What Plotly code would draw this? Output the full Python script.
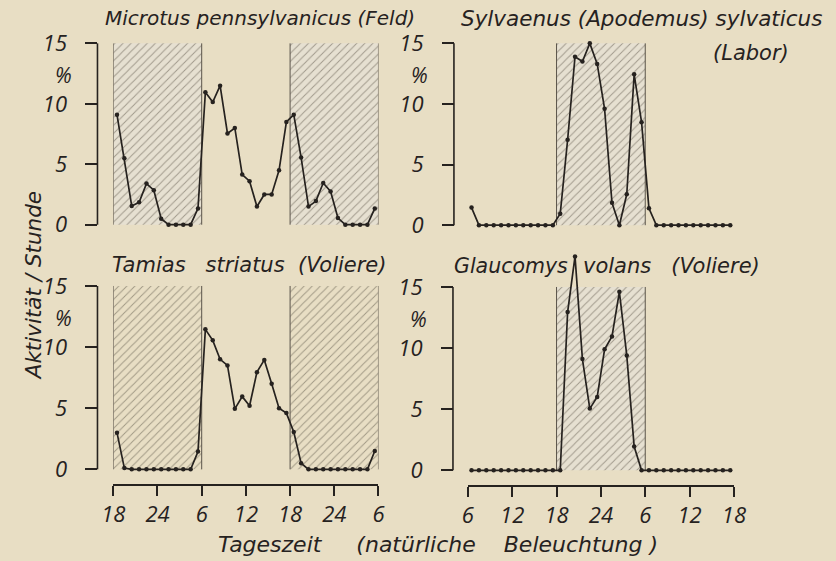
import numpy as np
import plotly.graph_objects as go

W, H = 836, 561
BG = "#e8dec4"
INK = "#26221f"
HATCH_BG = "#e6e0d1"
FONT = "Open Sans"
TEXT_FONT = "DejaVu Sans"

# hourly activity (% of daily total), 36 consecutive hours per panel
hours = np.arange(36) + 0.5

microtus = [9.1, 5.5, 1.55, 1.85, 3.4, 2.85, 0.5, 0, 0, 0, 0, 1.35,
            10.95, 10.15, 11.5, 7.55, 8.0, 4.15, 3.6, 1.5, 2.5, 2.5, 4.5, 8.5,
            9.1, 5.55, 1.5, 1.95, 3.45, 2.75, 0.55, 0, 0, 0, 0, 1.35]

sylvaenus = [1.45, 0, 0, 0, 0, 0, 0, 0, 0, 0, 0, 0,
             0.95, 7.05, 13.9, 13.5, 15.0, 13.3, 9.6, 1.85, 0, 2.55, 12.45, 8.5,
             1.4, 0, 0, 0, 0, 0, 0, 0, 0, 0, 0, 0]

tamias = [3.0, 0.1, 0, 0, 0, 0, 0, 0, 0, 0, 0, 1.45,
          11.45, 10.55, 9.0, 8.5, 4.95, 5.95, 5.2, 7.95, 8.95, 7.0, 5.0, 4.6,
          3.05, 0.5, 0, 0, 0, 0, 0, 0, 0, 0, 0, 1.5]

glaucomys = [0, 0, 0, 0, 0, 0, 0, 0, 0, 0, 0, 0,
             0, 12.95, 17.5, 9.1, 5.05, 6.0, 9.9, 10.95, 14.6, 9.4, 1.95, 0,
             0, 0, 0, 0, 0, 0, 0, 0, 0, 0, 0, 0]

# clock-hour tick labels
ticks_left = ["18", "24", "6", "12", "18", "24", "6"]
ticks_right = ["6", "12", "18", "24", "6", "12", "18"]
tick_pos = [0, 6, 12, 18, 24, 30, 36]

# dark periods (18-6 h) in hours from the start of each panel
dark_left = [(0, 12), (24, 36)]
dark_right = [(12, 24)]

fig = go.Figure()


def px_x(p):
    return p / W


def px_y(p):
    return 1 - p / H


def add_panel(n, values, x0, x1, y0, y15, axis_x, ymax, dark, ticktext=None,
              xaxis_y=None, hatch_bg=HATCH_BG):
    ymin = -1.2
    k = (y0 - y15) / 15.0
    bottom = y0 - ymin * k
    top = y15 - (ymax - 15) * k
    xa = "x" if n == 1 else f"x{n}"
    ya = "y" if n == 1 else f"y{n}"
    xkey = "xaxis" if n == 1 else f"xaxis{n}"
    ykey = "yaxis" if n == 1 else f"yaxis{n}"

    for a, b in dark:
        fig.add_trace(go.Scatter(
            x=[a, a, b, b, a], y=[0, 15, 15, 0, 0], xaxis=xa, yaxis=ya,
            mode="lines", fill="toself", line=dict(width=0),
            fillcolor=hatch_bg,
            fillpattern=dict(shape="/", size=5.7, solidity=0.17,
                             fgcolor="#5a5247", bgcolor=hatch_bg),
            hoverinfo="skip", showlegend=False))
        fig.add_trace(go.Scatter(
            x=[a, a, None, b, b], y=[0, 15, None, 0, 15], xaxis=xa, yaxis=ya,
            mode="lines", line=dict(color="#5a544a", width=1),
            hoverinfo="skip", showlegend=False))

    fig.add_trace(go.Scatter(
        x=hours, y=values, xaxis=xa, yaxis=ya, mode="lines+markers",
        line=dict(color=INK, width=1.7),
        marker=dict(color=INK, size=4.5),
        showlegend=False, cliponaxis=False))

    xax = dict(domain=[px_x(x0), px_x(x1)], range=[0, 36], showgrid=False,
               zeroline=False)
    if ticktext is None:
        xax.update(visible=False, anchor=ya)
    else:
        xax.update(anchor="free", position=px_y(xaxis_y), showline=True,
                   linecolor=INK, linewidth=1.6, ticks="outside", ticklen=10,
                   tickwidth=1.6, tickcolor=INK, tickvals=tick_pos,
                   ticktext=ticktext, ticklabelstandoff=0,
                   tickfont=dict(family=FONT, size=22, color=INK,
                                 style="italic"))
    fig.layout[xkey] = xax
    fig.layout[ykey] = dict(
        domain=[px_y(bottom), px_y(top)], range=[ymin, ymax],
        anchor="free", position=px_x(axis_x), showline=False,
        showgrid=False, zeroline=False, ticks="outside", ticklen=12,
        tickwidth=1.6, tickcolor=INK, tickvals=[0, 5, 10, 15],
        ticktext=["0", "5", "10", "15"], ticklabelstandoff=14,
        tickfont=dict(family=FONT, size=22, color=INK, style="italic"))

    # bracket-style value axis from 0 to 15 %
    fig.add_shape(type="line", xref="paper", yref="paper",
                  x0=px_x(axis_x), x1=px_x(axis_x),
                  y0=px_y(y0), y1=px_y(y15),
                  line=dict(color=INK, width=1.6))
    # "%" unit label between the 15 and 10 ticks
    fig.add_annotation(x=px_x(axis_x - 35), y=px_y(y0 - 12.4 * k),
                       xref="paper", yref="paper", text="%", showarrow=False,
                       xanchor="center", yanchor="middle",
                       font=dict(family=FONT, size=21, color=INK,
                                 style="italic"))


add_panel(1, microtus, 104.3, 377.3, 223.5, 41.5, 88, 16.2, dark_left)
add_panel(2, sylvaenus, 469.3, 743.3, 224.0, 41.5, 455, 16.2, dark_right)
add_panel(3, tamias, 104.3, 377.3, 469.0, 285.0, 88, 18.5, dark_left,
          ticktext=ticks_left, xaxis_y=485, hatch_bg=BG)
add_panel(4, glaucomys, 469.3, 743.3, 470.0, 286.0, 454, 18.5, dark_right,
          ticktext=ticks_right, xaxis_y=486)

NB = "\u00a0"


def label(text, cx, cy, size=21, angle=0):
    fig.add_annotation(x=px_x(cx), y=px_y(cy), xref="paper", yref="paper",
                       text=text, showarrow=False, textangle=angle,
                       xanchor="center", yanchor="middle",
                       font=dict(family=TEXT_FONT, size=size, color=INK,
                                 style="italic"))


label("Microtus pennsylvanicus (Feld)", 255, 16, size=20)
label("Sylvaenus (Apodemus) sylvaticus", 648, 17, size=21.5)
label("(Labor)", 761, 51)
label(f"Tamias{NB}{NB} striatus{NB} (Voliere)", 244, 264)
label("Glaucomys", 514, 265, size=20.5)
label(f"volans{NB}{NB} (Voliere)", 679, 265)
label("Aktivität / Stunde", 23, 285, size=21.5, angle=-90)
label(f"Tageszeit{NB * 4} (natürliche{NB * 3} Beleuchtung )",
      439, 544, size=22)

fig.update_layout(
    width=W, height=H, margin=dict(l=0, r=0, t=0, b=0),
    paper_bgcolor=BG, plot_bgcolor="rgba(0,0,0,0)",
    font=dict(family=FONT, color=INK), showlegend=False)

fig.write_html("out.html")
